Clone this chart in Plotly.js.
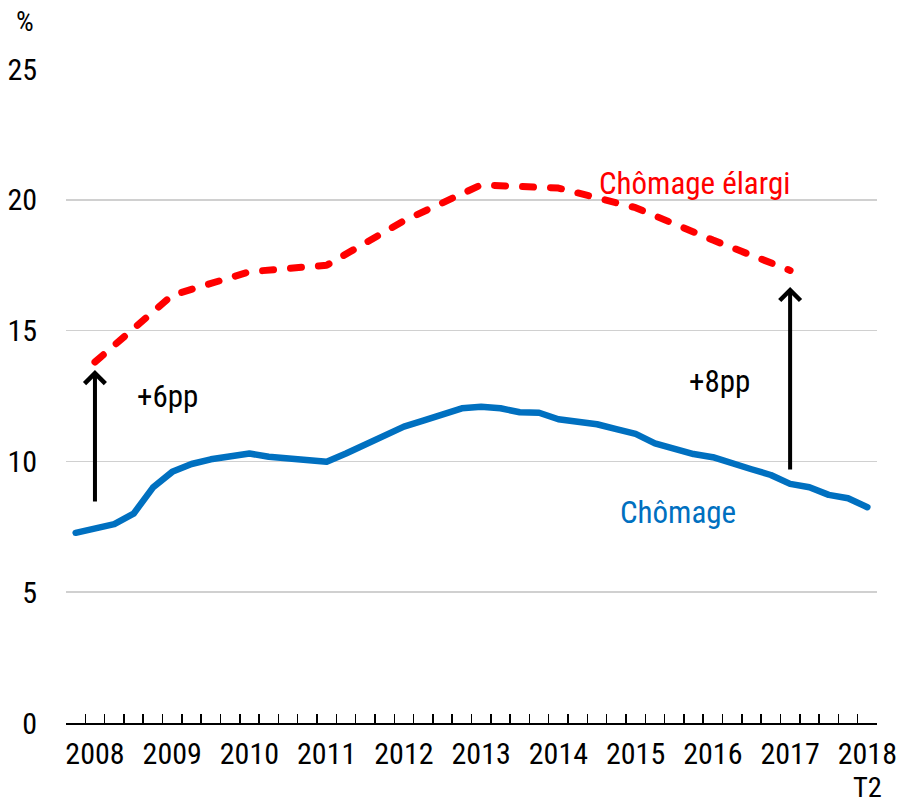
<!DOCTYPE html>
<html>
<head>
<meta charset="utf-8">
<script src="https://cdn.plot.ly/plotly-3.0.1.min.js"></script>
<style>
html,body{margin:0;padding:0;background:#fff;}
#chart{width:901px;height:804px;}
#chart .scatterlayer .js-line{stroke-linecap:round;stroke-linejoin:round;}
</style>
</head>
<body>
<div id="chart"></div>
<script>
// Quarterly categories 2008 T1 .. 2018 T2
const quarters = [];
for (let y = 2008; y <= 2018; y++) {
  for (let q = 1; q <= 4; q++) {
    if (y === 2018 && q > 2) break;
    quarters.push(y + " T" + q);
  }
}
// Chômage (quarterly, %)
const chomage = [
  7.27, 7.44, 7.6, 8.0, 9.0, 9.6, 9.9, 10.08, 10.2, 10.3,
  10.18, 10.12, 10.0, 9.99, 10.3, 10.63, 10.95, 11.33, 11.56, 11.81,
  12.03, 12.09, 12.03, 11.88, 11.86, 11.61, 11.52, 11.42, 11.23, 11.05,
  10.69, 10.5, 10.28, 10.16, 9.9, 9.7, 9.48, 9.14, 9.01, 8.72,
  8.59, 8.25
];
// Chômage élargi (annual, plotted at T2 of each year)
const elargiQuarters = ["2008 T2","2009 T2","2010 T2","2011 T2","2012 T2","2013 T2","2014 T2","2015 T2","2016 T2","2017 T2"];
const elargi = [13.8, 16.35, 17.25, 17.5, 19.2, 20.57, 20.45, 19.7, 18.46, 17.3];
// Tick labels
const yearLabelQuarters = ["2008 T2","2009 T2","2010 T2","2011 T2","2012 T2","2013 T2","2014 T2","2015 T2","2016 T2","2017 T2","2018 T2"];
const yearLabels = ["2008","2009","2010","2011","2012","2013","2014","2015","2016","2017","2018"];
const lastSubLabel = "T2";
const yTicks = [0, 5, 10, 15, 20, 25];

const idx = q => quarters.indexOf(q);
const xQ = quarters.map((q, i) => i);
const xE = elargiQuarters.map(idx);
const xLab = yearLabelQuarters.map(idx);
const boundaries = [];
for (let i = 0; i <= quarters.length; i++) boundaries.push(i - 0.5);

const FONT = "Roboto Condensed, Arial Narrow, sans-serif";
const FS = 30;
const FL = 31;

const traces = [
  {
    x: xQ, y: chomage, type: "scatter", mode: "lines",
    line: {color: "#0070C0", width: 6.5}, hoverinfo: "skip", showlegend: false
  },
  {
    x: xE, y: elargi, type: "scatter", mode: "lines",
    line: {color: "#FF0000", width: 7, dash: "11px,17px"}, hoverinfo: "skip", showlegend: false
  },
  { x: [0], y: [null], xaxis: "x2", type: "scatter", mode: "lines", showlegend: false, hoverinfo: "skip" }
];

const xr = [-0.5, quarters.length - 0.5];
const i08 = idx("2008 T2"), i17 = idx("2017 T2"), iLast = quarters.length - 1;

const layout = {
  width: 901, height: 804,
  margin: {l: 66, r: 24, t: 69, b: 81},
  paper_bgcolor: "#fff", plot_bgcolor: "#fff",
  font: {family: FONT, size: FS, color: "#000"},
  showlegend: false,
  xaxis: {
    range: xr, tickmode: "array", tickvals: boundaries, ticktext: boundaries.map(() => ""),
    ticks: "inside", ticklen: 9, tickwidth: 1.5, tickcolor: "#000",
    showline: true, linecolor: "#000", linewidth: 1.5,
    showgrid: false, zeroline: false, fixedrange: true
  },
  xaxis2: {
    range: xr, overlaying: "x", side: "bottom", anchor: "y",
    tickmode: "array", tickvals: xLab, ticktext: yearLabels,
    ticks: "", showline: false, showgrid: false, zeroline: false,
    tickfont: {family: FONT, size: FS, color: "#000"}, ticklabelstandoff: 10,
    ticklabeloverflow: "allow"
  },
  yaxis: {
    range: [0, 25], tickmode: "array", tickvals: yTicks, ticktext: yTicks.map(String),
    ticks: "", showline: false, zeroline: false,
    showgrid: true, gridcolor: "#d0d0d0", gridwidth: 1.5,
    tickfont: {family: FONT, size: FS, color: "#000"}, ticklabelstandoff: 28, fixedrange: true
  },
  annotations: [
    {xref: "paper", yref: "paper", x: -0.0506, y: 1.072, text: "%", showarrow: false,
     xanchor: "center", yanchor: "middle", font: {family: FONT, size: 28, color: "#000"}},
    {x: iLast, xref: "x", yref: "paper", y: -0.0985, text: lastSubLabel, showarrow: false,
     xanchor: "center", yanchor: "middle", font: {family: FONT, size: 28.5, color: "#000"}},
    {x: 32.05, y: 20.64, text: "Chômage élargi", showarrow: false,
     font: {family: FONT, size: FL, color: "#FF0000"}},
    {x: 31.19, y: 8.03, text: "Chômage", showarrow: false,
     font: {family: FONT, size: FL, color: "#0070C0"}},
    {x: 4.76, y: 12.5, text: "+6pp", showarrow: false,
     font: {family: FONT, size: FL, color: "#000"}},
    {x: 33.32, y: 13.07, text: "+8pp", showarrow: false,
     font: {family: FONT, size: FL, color: "#000"}},
    {x: i08, y: 13.49, ax: i08, ay: 8.41, axref: "x", ayref: "y", text: "",
     showarrow: true, arrowhead: 4, arrowsize: 1, arrowwidth: 4, arrowcolor: "#000", standoff: 0, startstandoff: 0},
    {x: i17, y: 16.67, ax: i17, ay: 9.63, axref: "x", ayref: "y", text: "",
     showarrow: true, arrowhead: 4, arrowsize: 1, arrowwidth: 4, arrowcolor: "#000", standoff: 0, startstandoff: 0}
  ]
};

Plotly.newPlot("chart", traces, layout, {staticPlot: true, displayModeBar: false});
</script>
</body>
</html>
